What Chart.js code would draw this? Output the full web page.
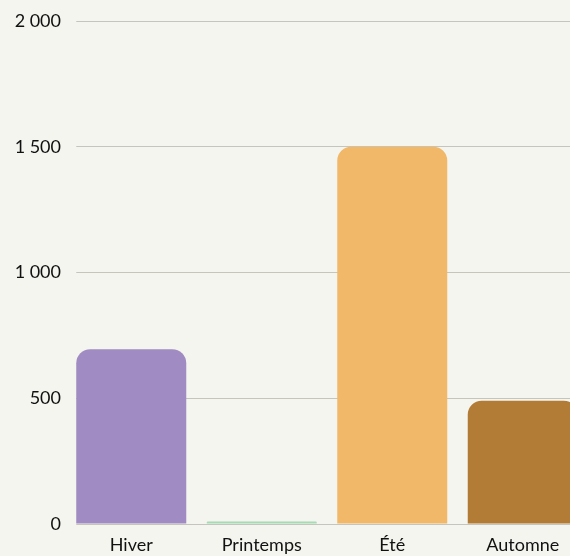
<!DOCTYPE html>
<html>
<head>
<meta charset="utf-8">
<script src="https://cdn.jsdelivr.net/npm/chart.js@4"></script>
<style>
  html, body { margin: 0; padding: 0; background: #f5f5ef; overflow: hidden; }
  #wrap { width: 588px; height: 556px; }
</style>
</head>
<body>
<div id="wrap"><canvas id="seasonChart"></canvas></div>
<script>
// Seasons and values
const seasons = ['Hiver', 'Printemps', 'Été', 'Automne'];
const values = [695, 10, 1500, 490];
const barColors = ['#a08bc2', '#a6dbb4', '#f1b869', '#b27b36'];
const yTicks = [0, 500, 1000, 1500, 2000];

const bg = '#f5f5ef';

// hide the grid lines left of the first bar (they start at the bar edge)
const gridTrim = {
    id: 'gridTrim',
    beforeDatasetsDraw(chart) {
        const bar = chart.getDatasetMeta(0).data[0];
        const area = chart.chartArea;
        const ctx = chart.ctx;
        ctx.save();
        ctx.fillStyle = bg;
        ctx.fillRect(area.left - 1, area.top - 2, bar.x - bar.width / 2 - area.left + 1, area.bottom - area.top + 4);
        ctx.restore();
    }
};

const ctx = document.getElementById('seasonChart').getContext('2d');
new Chart(ctx, {
    type: 'bar',
    data: {
        labels: seasons,
        datasets: [{
            data: values,
            backgroundColor: barColors,
            borderRadius: { topLeft: 14, topRight: 14 },
            borderSkipped: 'start',
            categoryPercentage: 1,
            barPercentage: 0.843
        }]
    },
    options: {
        responsive: true,
        maintainAspectRatio: false,
        animation: false,
        layout: { padding: { top: 21, right: 0, bottom: 0, left: 0 } },
        plugins: { legend: { display: false }, tooltip: { enabled: false } },
        scales: {
            x: {
                grid: { display: false },
                border: { display: false },
                afterFit: axis => { axis.height = 32; },
                ticks: { color: '#111', font: { family: 'Lato', size: 18 }, padding: 2 }
            },
            y: {
                min: 0,
                max: 2000,
                afterFit: axis => { axis.width = 66; },
                afterBuildTicks: axis => { axis.ticks = yTicks.map(v => ({ value: v })); },
                grid: { color: '#c5c5be', lineWidth: 1, drawTicks: false },
                border: { display: false },
                ticks: {
                    color: '#111',
                    font: { family: 'Lato', size: 18 },
                    padding: 5,
                    callback: v => String(v).replace(/\B(?=(\d{3})+(?!\d))/g, ' ')
                }
            }
        }
    },
    plugins: [gridTrim]
});
</script>
</body>
</html>
